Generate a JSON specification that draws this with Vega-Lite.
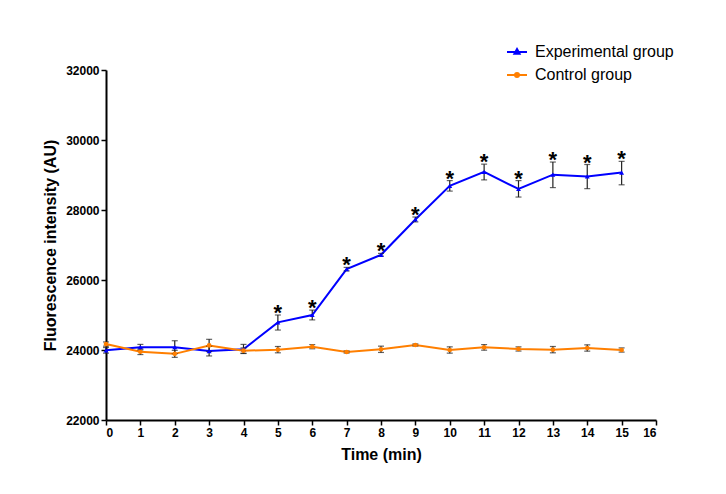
{
  "$schema": "https://vega.github.io/schema/vega-lite/v6.json",
  "width": 550,
  "height": 350,
  "autosize": {"type": "none"},
  "padding": {"left": 106, "top": 70, "right": 70, "bottom": 74},
  "background": "white",
  "config": {
    "view": {"stroke": null},
    "axis": {
      "grid": false,
      "domainColor": "black",
      "domainWidth": 2,
      "tickColor": "black",
      "tickWidth": 1.5,
      "tickSize": 5,
      "labelFont": "Liberation Sans",
      "labelFontWeight": "bold",
      "labelFontSize": 12,
      "labelColor": "black",
      "titleFont": "Liberation Sans",
      "titleFontWeight": "bold",
      "titleFontSize": 16,
      "titleColor": "black"
    },
    "legend": {
      "orient": "none",
      "legendX": 400,
      "legendY": -29,
      "symbolSize": 400,
      "symbolStrokeWidth": 2,
      "labelFont": "Liberation Sans",
      "labelFontSize": 16,
      "labelColor": "black",
      "labelOffset": 7,
      "rowPadding": 4,
      "labelLimit": 300
    }
  },
  "data": {
    "values": [
      {"t": 0, "group": "Experimental group", "mean": 23990, "lo": 23910, "hi": 24070, "sig": ""},
      {"t": 1, "group": "Experimental group", "mean": 24080, "lo": 24000, "hi": 24160, "sig": ""},
      {"t": 2, "group": "Experimental group", "mean": 24080, "lo": 23895, "hi": 24265, "sig": ""},
      {"t": 3, "group": "Experimental group", "mean": 23970, "lo": 23830, "hi": 24110, "sig": ""},
      {"t": 4, "group": "Experimental group", "mean": 24020, "lo": 23905, "hi": 24160, "sig": ""},
      {"t": 5, "group": "Experimental group", "mean": 24790, "lo": 24570, "hi": 25000, "sig": "*"},
      {"t": 6, "group": "Experimental group", "mean": 25000, "lo": 24860, "hi": 25140, "sig": "*"},
      {"t": 7, "group": "Experimental group", "mean": 26310, "lo": 26260, "hi": 26360, "sig": "*"},
      {"t": 8, "group": "Experimental group", "mean": 26720, "lo": 26680, "hi": 26760, "sig": "*"},
      {"t": 9, "group": "Experimental group", "mean": 27730, "lo": 27660, "hi": 27800, "sig": "*"},
      {"t": 10, "group": "Experimental group", "mean": 28690, "lo": 28540, "hi": 28840, "sig": "*"},
      {"t": 11, "group": "Experimental group", "mean": 29090, "lo": 28860, "hi": 29310, "sig": "*"},
      {"t": 12, "group": "Experimental group", "mean": 28600, "lo": 28370, "hi": 28840, "sig": "*"},
      {"t": 13, "group": "Experimental group", "mean": 29010, "lo": 28640, "hi": 29370, "sig": "*"},
      {"t": 14, "group": "Experimental group", "mean": 28960, "lo": 28610, "hi": 29300, "sig": "*"},
      {"t": 15, "group": "Experimental group", "mean": 29070, "lo": 28720, "hi": 29390, "sig": "*"},
      {"t": 0, "group": "Control group", "mean": 24170, "lo": 24110, "hi": 24230, "sig": ""},
      {"t": 1, "group": "Control group", "mean": 23950, "lo": 23870, "hi": 24030, "sig": ""},
      {"t": 2, "group": "Control group", "mean": 23890, "lo": 23790, "hi": 23990, "sig": ""},
      {"t": 3, "group": "Control group", "mean": 24130, "lo": 23955, "hi": 24305, "sig": ""},
      {"t": 4, "group": "Control group", "mean": 23980, "lo": 23900, "hi": 24060, "sig": ""},
      {"t": 5, "group": "Control group", "mean": 24010, "lo": 23920, "hi": 24100, "sig": ""},
      {"t": 6, "group": "Control group", "mean": 24095, "lo": 24035, "hi": 24155, "sig": ""},
      {"t": 7, "group": "Control group", "mean": 23943, "lo": 23913, "hi": 23973, "sig": ""},
      {"t": 8, "group": "Control group", "mean": 24020, "lo": 23930, "hi": 24110, "sig": ""},
      {"t": 9, "group": "Control group", "mean": 24143, "lo": 24113, "hi": 24173, "sig": ""},
      {"t": 10, "group": "Control group", "mean": 24000, "lo": 23910, "hi": 24090, "sig": ""},
      {"t": 11, "group": "Control group", "mean": 24075, "lo": 23995, "hi": 24155, "sig": ""},
      {"t": 12, "group": "Control group", "mean": 24030, "lo": 23970, "hi": 24090, "sig": ""},
      {"t": 13, "group": "Control group", "mean": 24010, "lo": 23920, "hi": 24100, "sig": ""},
      {"t": 14, "group": "Control group", "mean": 24057, "lo": 23967, "hi": 24147, "sig": ""},
      {"t": 15, "group": "Control group", "mean": 24000, "lo": 23940, "hi": 24060, "sig": ""}
    ]
  },
  "encoding": {
    "x": {
      "field": "t",
      "type": "quantitative",
      "scale": {"domain": [0, 16], "nice": false},
      "axis": {"title": "Time (min)", "values": [0,1,2,3,4,5,6,7,8,9,10,11,12,13,14,15,16], "labelPadding": 2, "titlePadding": 8}
    }
  },
  "layer": [
    {
      "mark": {"type": "line", "strokeWidth": 2},
      "encoding": {
        "y": {
          "field": "mean",
          "type": "quantitative",
          "title": "Fluorescence intensity (AU)",
          "scale": {"domain": [22000, 32000], "nice": false, "zero": false},
          "axis": {"values": [22000, 24000, 26000, 28000, 30000, 32000], "format": "d", "labelPadding": 2, "titlePadding": 7}
        },
        "color": {
          "field": "group",
          "type": "nominal",
          "scale": {"domain": ["Experimental group", "Control group"], "range": ["#0000ff", "#ff7f00"]},
          "legend": {
            "title": null,
            "encode": {
              "symbols": {
                "update": {
                  "shape": {"signal": "datum.value == 'Experimental group' ? 'M-1,0L1,0M0,-0.3L0.26,0.18L-0.26,0.18Z' : 'M-1,0L1,0M0.2,0A0.2,0.2,0,1,1,-0.2,0A0.2,0.2,0,1,1,0.2,0Z'"},
                  "fill": {"signal": "datum.value == 'Experimental group' ? '#0000ff' : '#ff7f00'"},
                  "stroke": {"signal": "datum.value == 'Experimental group' ? '#0000ff' : '#ff7f00'"},
                  "strokeWidth": {"value": 2}
                }
              }
            }
          }
        }
      }
    },
    {
      "mark": {"type": "errorbar", "ticks": {"size": 6}, "color": "#222222", "thickness": 1.2},
      "encoding": {
        "y": {"field": "lo", "type": "quantitative", "title": "Fluorescence intensity (AU)"},
        "y2": {"field": "hi"}
      }
    },
    {
      "transform": [{"filter": "datum.group == 'Experimental group'"}],
      "mark": {"type": "point", "filled": true, "size": 24, "opacity": 1, "shape": "triangle-up", "color": "#0000ff"},
      "encoding": {
        "y": {"field": "mean", "type": "quantitative", "title": "Fluorescence intensity (AU)"}
      }
    },
    {
      "transform": [{"filter": "datum.group == 'Control group'"}],
      "mark": {"type": "point", "filled": true, "size": 22, "opacity": 1, "shape": "circle", "color": "#ff7f00"},
      "encoding": {
        "y": {"field": "mean", "type": "quantitative", "title": "Fluorescence intensity (AU)"}
      }
    },
    {
      "transform": [{"filter": "datum.sig == '*'"}],
      "mark": {"type": "text", "font": "Liberation Sans", "fontSize": 22, "fontWeight": "bold", "color": "black", "baseline": "alphabetic", "align": "center", "dy": 5},
      "encoding": {
        "y": {"field": "hi", "type": "quantitative", "title": "Fluorescence intensity (AU)"},
        "text": {"field": "sig"}
      }
    }
  ]
}
